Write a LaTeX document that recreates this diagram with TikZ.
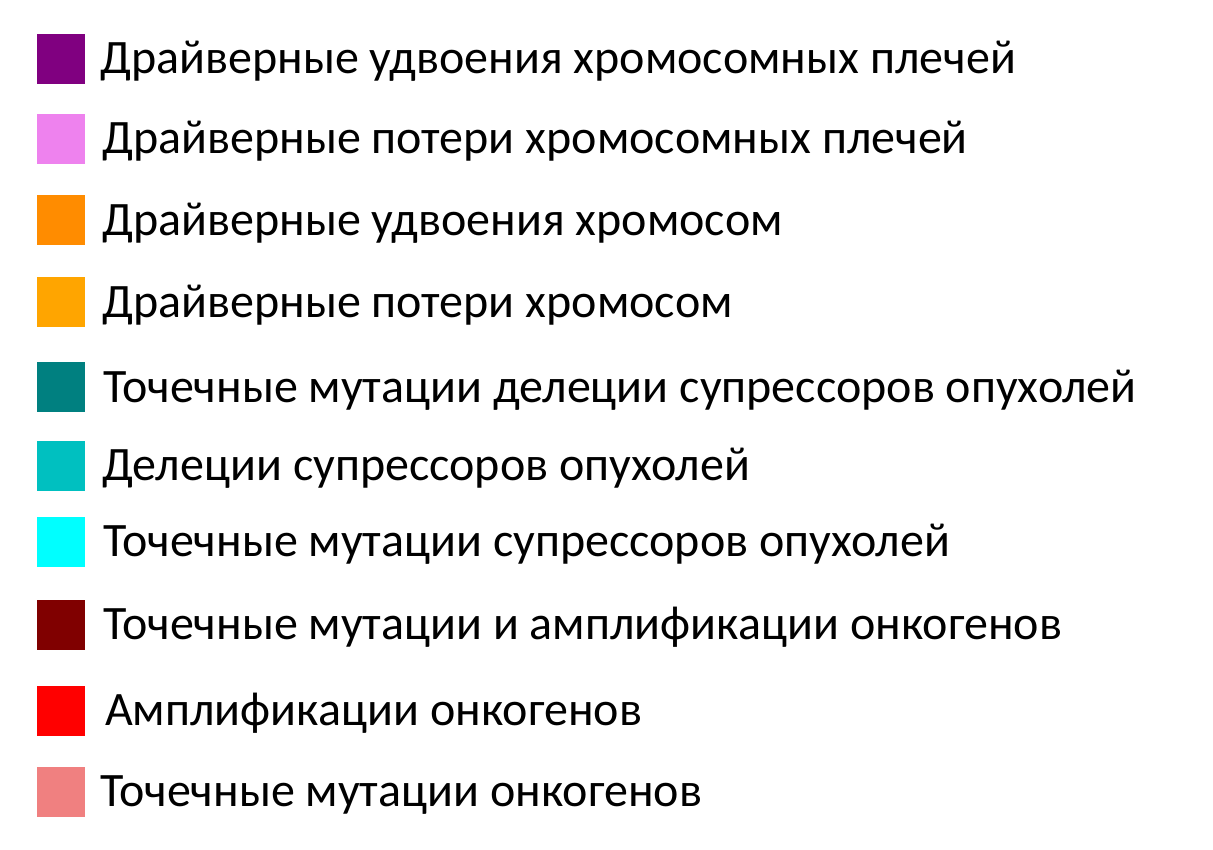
\documentclass[tikz,border=0pt]{standalone}
\usepackage{fontspec}
\setmainfont{Carlito}
\definecolor{c1}{HTML}{800080}
\definecolor{c2}{HTML}{EE82EE}
\definecolor{c3}{HTML}{FF8C00}
\definecolor{c4}{HTML}{FFA500}
\definecolor{c5}{HTML}{008080}
\definecolor{c6}{HTML}{00C0C0}
\definecolor{c7}{HTML}{00FFFF}
\definecolor{c8}{HTML}{800000}
\definecolor{c9}{HTML}{FF0000}
\definecolor{c10}{HTML}{F08080}
\begin{document}
\begin{tikzpicture}[x=1pt,y=-1pt,
  swatch/.style={minimum width=48pt,minimum height=50pt,inner sep=0pt,anchor=center},
  label/.style={anchor=base west,inner sep=0pt,font=\fontsize{48}{56}\selectfont}]
\useasboundingbox[fill=white] (0,0) rectangle (1213,849);
\foreach \i/\y/\x/\t in {
 1/58.5/100/{Драйверные удвоения хромосомных плечей},
 2/138.5/102/{Драйверные потери хромосомных плечей},
 3/220/102/{Драйверные удвоения хромосом},
 4/302/102/{Драйверные потери хромосом},
 5/387/103/{Точечные мутации делеции супрессоров опухолей},
 6/465.5/102/{Делеции супрессоров опухолей},
 7/541.5/103/{Точечные мутации супрессоров опухолей},
 8/624.5/103/{Точечные мутации и амплификации онкогенов},
 9/710.5/105/{Амплификации онкогенов},
 10/791.5/100/{Точечные мутации онкогенов}} {
  \node[swatch,fill=c\i] (s\i) at (61,\y) {};
  \node[label] (t\i) at (\x,\y+15) {\t};
}
\end{tikzpicture}
\end{document}
